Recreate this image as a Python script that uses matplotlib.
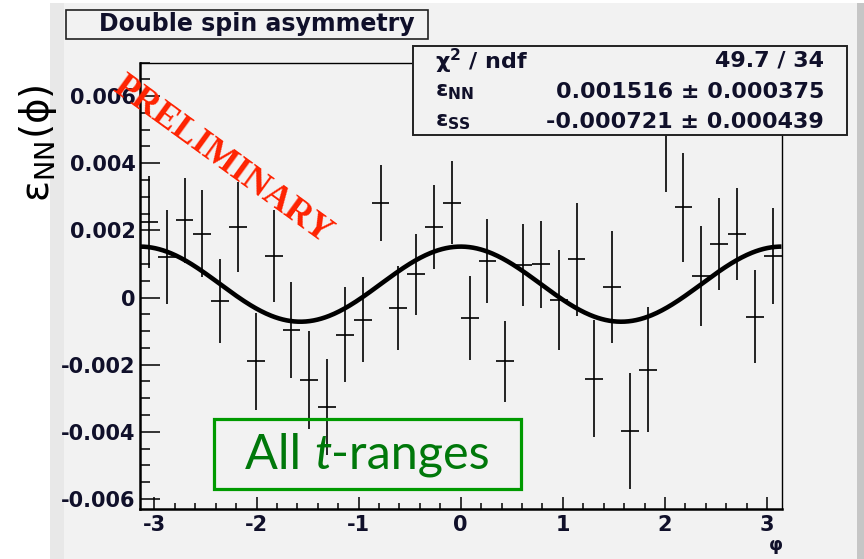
import numpy as np
import matplotlib
matplotlib.use("Agg")
import matplotlib.pyplot as plt
from matplotlib.patches import Rectangle
from matplotlib.offsetbox import TextArea, HPacker, AnnotationBbox
from matplotlib.ticker import MultipleLocator

# ---------------- data ----------------
n_bins = 36
asym = [0.00225, 0.00121, 0.00230, 0.00190, -0.00010, 0.00210,
        -0.00190, 0.00124, -0.00097, -0.00245, -0.00326, -0.00111,
        -0.00066, 0.00282, -0.00031, 0.00069, 0.00210, 0.00282,
        -0.00061, 0.00109, -0.00190, 0.00097, 0.00099, -0.00008,
        0.00114, -0.00242, 0.00030, -0.00398, -0.00215, 0.00495,
        0.00269, 0.00064, 0.00158, 0.00188, -0.00057, 0.00124]
asym_err = [0.00138, 0.00140, 0.00126, 0.00129, 0.00126, 0.00134,
            0.00145, 0.00138, 0.00143, 0.00146, 0.00142, 0.00141,
            0.00126, 0.00114, 0.00124, 0.00120, 0.00124, 0.00124,
            0.00124, 0.00124, 0.00120, 0.00121, 0.00129, 0.00149,
            0.00168, 0.00174, 0.00167, 0.00173, 0.00187, 0.00180,
            0.00162, 0.00150, 0.00137, 0.00137, 0.00139, 0.00142]
eps_NN = 0.001516
eps_SS = -0.000721
ytick_vals = [-0.006, -0.004, -0.002, 0.0, 0.002, 0.004, 0.006]
ytick_labels = ["-0.006", "-0.004", "-0.002", "0", "0.002", "0.004", "0.006"]
xtick_vals = [-3, -2, -1, 0, 1, 2, 3]
xtick_labels = ["-3", "-2", "-1", "0", "1", "2", "3"]
stats_rows = [("χ$^{\\mathbf{2}}$ / ndf", "49.7 / 34"),
              ("ε$_{\\mathbf{NN}}$", "0.001516 ± 0.000375"),
              ("ε$_{\\mathbf{SS}}$", "-0.000721 ± 0.000439")]

edges = np.linspace(-np.pi, np.pi, n_bins + 1)
phi = 0.5 * (edges[:-1] + edges[1:])
half_bin = 0.5 * (edges[1] - edges[0])

# ---------------- figure ----------------
W, H = 864, 559
fig = plt.figure(figsize=(W / 100, H / 100), dpi=100)
fig.patch.set_facecolor("white")

def fx(x):
    return x / W

def fy(y):
    return 1 - y / H

def frect(x0, y0, x1, y1, **kw):
    r = Rectangle((fx(x0), fy(y1)), fx(x1) - fx(x0), fy(y0) - fy(y1),
                  transform=fig.transFigure, **kw)
    fig.add_artist(r)
    return r

# canvas panel
frect(50, 3, 857, 559, facecolor="#f2f2f2", edgecolor="none", zorder=-10)
frect(50, 3, 64, 559, facecolor="#e8e8e8", edgecolor="none", zorder=-9)
frect(857, 3, 864, 559, facecolor="#c6c6c6", edgecolor="none", zorder=-9)

ax = fig.add_axes([fx(140), fy(509), fx(781.5) - fx(140), fy(62.5) - fy(509)])
ax.set_facecolor("#f2f2f2")
ax.set_xlim(-np.pi, np.pi)
ax.set_ylim(-0.0063, 0.007)

ax.errorbar(phi, asym, yerr=asym_err, xerr=half_bin, fmt="none",
            ecolor="black", elinewidth=1.2, capsize=0, zorder=2)
phi_fine = np.linspace(-np.pi, np.pi, 500)
ax.plot(phi_fine, eps_NN * np.cos(phi_fine) ** 2 + eps_SS * np.sin(phi_fine) ** 2,
        color="black", lw=3.3, zorder=3, solid_capstyle="butt")

ax.set_yticks(ytick_vals)
ax.set_yticklabels(ytick_labels)
ax.set_xticks(xtick_vals)
ax.set_xticklabels(xtick_labels)
ax.yaxis.set_minor_locator(MultipleLocator(0.0005))
ax.xaxis.set_minor_locator(MultipleLocator(0.2))
ax.tick_params(axis="y", which="major", direction="in", length=14.5, width=1.1,
               pad=3, labelsize=15)
ax.tick_params(axis="y", which="minor", direction="in", length=7.2, width=1.1)
ax.tick_params(axis="x", which="major", direction="in", length=8.6, width=1.1,
               pad=4, labelsize=15)
ax.tick_params(axis="x", which="minor", direction="in", length=4.3, width=1.1)
for lab in ax.get_xticklabels() + ax.get_yticklabels():
    lab.set_fontweight("bold")
    lab.set_color("#10102a")
for s in ["top", "right"]:
    ax.spines[s].set_linewidth(1.0)
for s in ["left", "bottom"]:
    ax.spines[s].set_linewidth(1.8)

# title box
frect(66, 10, 428, 39, facecolor="#f2f2f2", edgecolor="#222222", lw=1.2, zorder=5)
fig.text(fx(257), fy(24.5), "Double spin asymmetry", ha="center", va="center",
         fontsize=17, fontweight="bold", color="#10102a", zorder=6)

# stats box
frect(413, 46, 847, 135, facecolor="#f2f2f2", edgecolor="#222222", lw=1.4, zorder=5)
row_y = [61, 92.5, 122.5]
for (lab, val), yy in zip(stats_rows, row_y):
    fig.text(fx(435), fy(yy), lab, ha="left", va="center", fontsize=16,
             fontweight="bold", color="#10102a", zorder=6)
    fig.text(fx(824), fy(yy), val, ha="right", va="center", fontsize=16,
             fontweight="bold", color="#10102a", zorder=6)

# y label
fig.text(fx(38), fy(143), "ε$_{\\mathrm{NN}}$(ϕ)", rotation=90, ha="center",
         va="center", fontsize=28, color="black")
# x label
fig.text(fx(776), fy(545), "φ", ha="center", va="center", fontsize=13,
         fontweight="bold", color="#10102a")

# PRELIMINARY
fig.text(fx(222), fy(160), "PRELIMINARY", rotation=-36, rotation_mode="anchor",
         ha="center", va="center", fontsize=26, fontweight="bold",
         family="Liberation Serif", color="#ff2200", zorder=7)

# green label box
frect(214, 419, 521, 489, facecolor="none", edgecolor="#009a00", lw=2.3, zorder=6)
tprops = dict(color="#00780a", fontsize=35, family="Lato")
t1 = TextArea("All ", textprops=tprops)
t2 = TextArea("t", textprops=dict(tprops, style="italic"))
t3 = TextArea("-ranges", textprops=tprops)
pack = HPacker(children=[t1, t2, t3], align="baseline", pad=0, sep=0)
ab = AnnotationBbox(pack, (fx(367.5), fy(455)), xycoords="figure fraction",
                    frameon=False, box_alignment=(0.5, 0.5), zorder=7)
fig.add_artist(ab)

fig.savefig("out.png", dpi=100)
